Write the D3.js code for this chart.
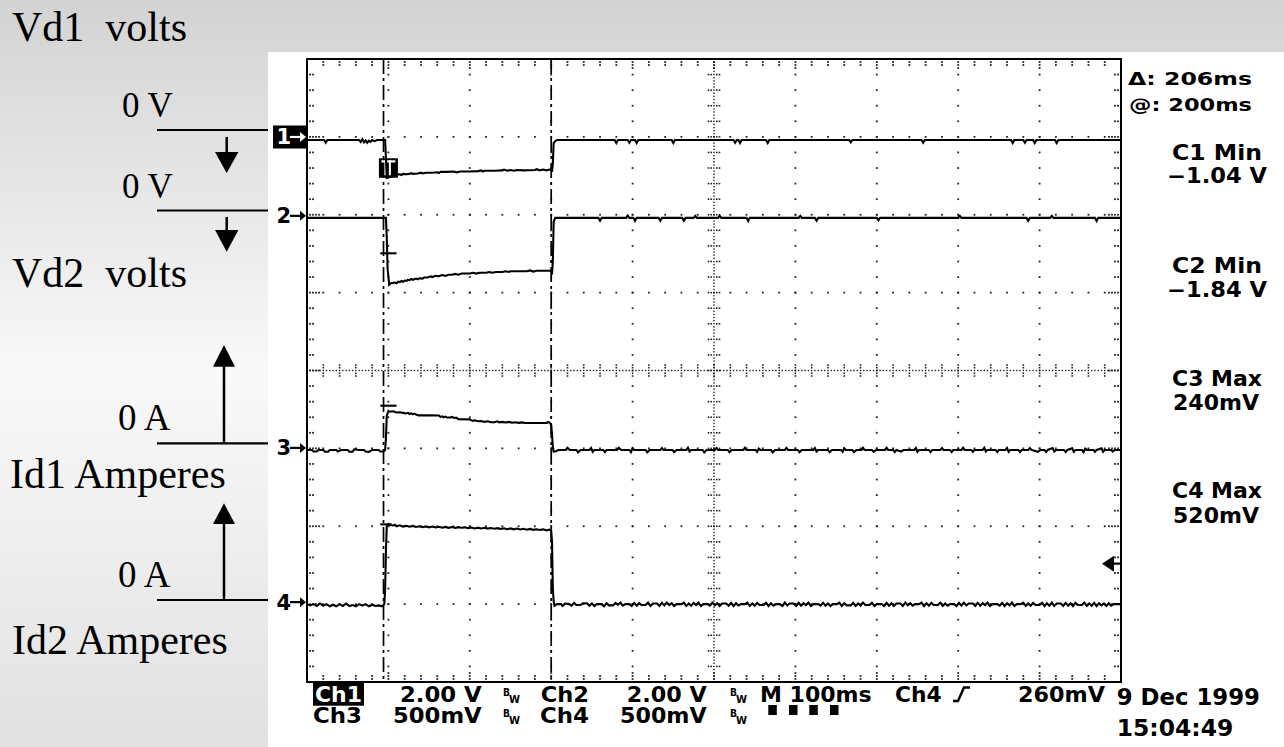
<!DOCTYPE html>
<html><head><meta charset="utf-8">
<script src="https://cdn.jsdelivr.net/npm/d3@7/dist/d3.min.js"></script>
<style>html,body{margin:0;padding:0;background:#fff;overflow:hidden;} svg{display:block;}</style>
</head><body>
<svg id="c" width="1284" height="747"></svg>
<script>
// ================= DATA =================
const channelNames = ["Ch1", "Ch2", "Ch3", "Ch4"];
const markerLabels = ["1", "2", "3", "4"];
const voltsPerDiv = [2.0, 2.0, 0.5, 0.5];
const channelOffsetDiv = [2.96, 1.96, -1.02, -3.0];
const timeWindowMs = [-100, 900];       // 100 ms/div, 10 divisions
const cursorTimesMs = [-6, 200];
const triggerLevelV = 0.26;             // on Ch4
const triggerChannel = 3;

const annotLabels = ["Vd1  volts", "0 V", "0 V", "Vd2  volts", "0 A", "Id1 Amperes", "0 A", "Id2 Amperes"];
const readoutLabels = ["\u0394: 206ms", "@: 200ms"];
const measLabels = ["C1 Min", "\u22121.04 V", "C2 Min", "\u22121.84 V", "C3 Max", "240mV", "C4 Max", "520mV"];
const bottomRow1 = ["2.00 V", "Ch2", "2.00 V", "M 100ms", "Ch4", "260mV"];
const bottomRow2 = ["Ch3", "500mV", "Ch4", "500mV"];
const dateLabels = ["9 Dec 1999", "15:04:49"];

// cursor-point bars drawn on traces near the trigger point [channel, volts, t0, t1]
const cursorBars = [[1, -0.91, -10, 10], [2, 0.284, -10, 10], [3, 0.512, -10, 4]];

// Ch1 (V)
const ch1 = [[-100,0],[-79,0],[-77,-0.07],[-75,0],[-36,0],[-34,-0.05],[-32,0.02],[-30,-0.06],[-28,-0.01],[-26,-0.07],[-24,-0.02],[-22,-0.05],[-20,0],[-17,-0.03],[-14,0],[-4,0],
 [-3,-0.5],[-2,-0.98],[1,-0.96],[6,-0.92],[10,-0.89],[14,-0.88],[16,-0.9],[18,-0.87],[22,-0.88],[26,-0.87],[28,-0.85],[30,-0.87],[36,-0.86],[40,-0.84],[42,-0.86],[46,-0.84],[54,-0.84],[60,-0.83],[62,-0.85],[64,-0.82],[72,-0.82],[80,-0.81],[84,-0.83],[88,-0.81],[100,-0.81],[110,-0.80],[114,-0.78],[116,-0.81],[118,-0.79],[130,-0.79],[140,-0.78],[142,-0.76],[146,-0.79],[150,-0.77],[154,-0.79],[158,-0.77],[166,-0.78],[180,-0.77],[182,-0.75],[186,-0.78],[190,-0.76],[194,-0.78],[198,-0.76],[200,-0.77],
 [201,-0.82],[202,-0.6],[203,-0.08],[205,-0.03],[207,0],
 [278,0],[280,-0.08],[282,0],[294,0],[296,-0.07],[298,0],[303,0],[305,-0.08],[307,0],[348,0],[350,-0.08],[352,0],[424,0],[426,-0.07],[428,0],[430,0],[432,-0.08],[434,0],[464,0],[466,-0.08],[468,0],
 [566,0],[568,-0.06],[570,0],[655,0],[657,-0.07],[659,0],[765,0],[767,-0.08],[769,0],[780,0],[782,-0.07],[784,0],[792,0],[794,-0.08],[796,0],[819,0],[821,-0.08],[823,0],[900,0]];

// Ch2 (V)
const ch2 = [[-100,0],[-3,0],[-2,-0.5],[-1,-1.3],[1,-1.72],[3,-1.68],[6,-1.67],[8,-1.66],[10,-1.68],[12,-1.64],[14,-1.65],[16,-1.62],[18,-1.64],[20,-1.61],[22,-1.62],[24,-1.59],[26,-1.6],[28,-1.57],[30,-1.59],[34,-1.56],[36,-1.58],[38,-1.55],[42,-1.56],[44,-1.53],[48,-1.53],[52,-1.5],[54,-1.52],[58,-1.49],[62,-1.5],[66,-1.47],[70,-1.49],[74,-1.46],[78,-1.46],[82,-1.44],[86,-1.46],[90,-1.43],[100,-1.43],[104,-1.41],[108,-1.43],[112,-1.41],[120,-1.41],[124,-1.39],[128,-1.41],[132,-1.39],[140,-1.39],[144,-1.37],[148,-1.39],[150,-1.37],[170,-1.37],[174,-1.35],[178,-1.38],[182,-1.36],[196,-1.36],[200,-1.36],
 [201,-1.45],[202,-1.1],[203,-0.1],[205,0],
 [258,0],[260,-0.07],[262,0],[292,0],[294,0.06],[296,0],[301,0],[303,-0.08],[305,0],[332,0],[334,-0.07],[336,0],[361,0],[363,-0.07],[365,0],[375,0],[377,0.05],[379,0],[405,0],[407,0.05],[409,0],[440,0],[442,-0.08],[444,0],[504,0],[506,0.05],[508,0],[524,0],[526,-0.07],[528,0],
 [600,0],[602,-0.06],[604,0],[700,0],[702,0.05],[704,0],[784,0],[786,-0.07],[788,0],[813,0],[815,0.05],[817,0],[868,0],[870,-0.08],[872,0],[900,0]];

// Ch3 (V)
const ch3 = [[-100,0],[-94,0],[-92,-0.01],[-88,-0.01],[-86,0],[-80,0],[-78,-0.012],[-74,-0.012],[-72,0],[-64,0],[-62,-0.01],[-58,0],[-50,0],[-48,-0.012],[-44,-0.012],[-42,0.004],[-36,0],[-30,0],[-28,-0.01],[-24,-0.012],[-20,0],[-12,0],[-10,-0.01],[-6,-0.01],[-4,0],
 [-3,0.08],[-2,0.22],[0,0.25],[2,0.245],[6,0.248],[10,0.24],[14,0.242],[18,0.238],[22,0.234],[24,0.238],[26,0.231],[28,0.235],[30,0.229],[32,0.233],[34,0.228],[37,0.222],[50,0.222],[62,0.221],[64,0.212],[66,0.216],[68,0.21],[70,0.214],[72,0.208],[76,0.208],[78,0.212],[80,0.207],[84,0.206],[86,0.197],[100,0.196],[102,0.19],[104,0.186],[106,0.19],[110,0.184],[114,0.186],[118,0.18],[122,0.184],[126,0.178],[130,0.178],[134,0.184],[136,0.177],[140,0.18],[144,0.176],[148,0.18],[152,0.175],[156,0.178],[160,0.174],[164,0.177],[168,0.173],[194,0.173],[196,0.178],[198,0.176],[200,0.16],
 [201,0.1],[202,0.02],[203,-0.01],[206,-0.008],[209,0],
 [218,0],[220,0.014],[223,0],[231,0],[233,-0.015],[236,0],[247,0],[249,0.012],[251,-0.012],[253,0],[264,0],[266,-0.014],[268,0],[281,0],[283,0.014],[286,0],[296,0],[298,-0.014],[300,0.01],[302,0],[316,0],[318,-0.015],[321,0],[334,0],[336,0.012],[338,0],[349,0],[351,-0.014],[354,0],[366,0],[368,0.014],[370,-0.01],[372,0],[386,0],[388,-0.015],[391,0],[401,0],[403,0.012],[405,0],[417,0],[419,-0.014],[422,0],[436,0],[438,0.014],[440,0],[451,0],[453,-0.012],[455,0.008],[457,0],[470,0],[472,-0.015],[475,0],[487,0],[489,0.013],[491,0],[503,0],[505,-0.014],[508,0],[522,0],[524,0.012],[526,-0.01],[528,0],[540,0],[542,-0.014],[545,0],[556,0],[558,-0.012],[560,0.01],[562,0],[570,0],[572,-0.014],[575,0],[581,0],[583,0.014],[585,0],[594,0],[596,-0.012],[599,0],[610,0],[612,0.014],[614,0],[620,0],[622,-0.014],[624,0],[630,-0.01],[633,0],[646,0],[648,0.012],[650,-0.012],[652,0],[664,0],[666,-0.014],[668,0],[678,0],[680,0.012],[682,0],[690,0],[692,-0.014],[694,0],[704,0],[706,0.014],[708,0],[716,0],[718,-0.012],[720,0],[730,0],[732,0.014],[734,-0.01],[736,0],[746,0],[748,-0.014],[750,0],[758,0],[760,0.012],[762,-0.012],[764,0],[774,0],[776,-0.014],[778,0],[786,0],[788,0.012],[790,0],[798,-0.012],[801,0],[806,0],[808,-0.014],[810,0],[816,0.012],[818,-0.01],[820,0],[830,0],[832,-0.014],[834,0],[840,0.01],[842,-0.012],[844,0],[852,0],[854,-0.014],[856,0.008],[858,0],[866,0],[868,-0.012],[870,0],[876,0.01],[878,-0.012],[880,0],[888,0],[890,-0.01],[892,0],[900,0]];

// Ch4 (V)
const ch4 = [[-100,0],[-96,-0.008],[-92,0],[-88,-0.012],[-84,0.004],[-80,-0.01],[-76,0],[-72,-0.014],[-68,-0.004],[-64,-0.014],[-60,0],[-56,-0.012],[-52,0.004],[-48,-0.012],[-44,-0.006],[-40,-0.014],[-36,0],[-32,-0.01],[-28,0],[-24,-0.014],[-20,-0.004],[-16,-0.012],[-12,-0.008],[-8,-0.014],[-5,0],
 [-4,0.1],[-3,0.35],[-2,0.5],[0,0.515],[2,0.508],[6,0.505],[8,0.51],[10,0.5],[14,0.506],[18,0.498],[22,0.503],[26,0.497],[30,0.502],[34,0.495],[38,0.5],[42,0.494],[46,0.499],[50,0.493],[54,0.498],[58,0.492],[62,0.497],[66,0.491],[70,0.496],[74,0.49],[78,0.495],[82,0.489],[86,0.494],[90,0.49],[94,0.493],[98,0.487],[102,0.492],[106,0.486],[110,0.491],[114,0.486],[118,0.49],[122,0.485],[126,0.489],[130,0.484],[134,0.488],[138,0.483],[142,0.487],[146,0.481],[150,0.486],[154,0.48],[158,0.485],[162,0.479],[166,0.484],[170,0.478],[174,0.483],[178,0.477],[182,0.481],[186,0.476],[190,0.48],[194,0.474],[198,0.478],[200,0.47],
 [201,0.4],[202,0.1],[203,0.02],[204,-0.01],[207,0],[212,0],[214,-0.012],[217,0.004],[222,0],[225,-0.01],[228,0.008],[231,-0.006],[236,-0.006],[239,0.006],[244,0.006],[247,-0.01],[250,0.004],[253,-0.012],[256,0],[262,0],[265,-0.014],[268,0.006],[271,-0.008],[276,-0.008],[279,0.008],[282,-0.004],[285,0.01],[288,-0.01],[291,0],[296,0],[299,-0.012],[302,0.008],[305,-0.01],[308,0.006],[311,-0.006],[316,-0.006],[319,0.01],[322,-0.012],[325,0.004],[330,0.004],[333,-0.012],[336,0.008],[339,-0.008],[342,0.01],[345,-0.006],[348,0.006],[351,-0.012],[354,0],[360,0],[363,0.01],[366,-0.012],[369,0.004],[372,-0.01],[375,0.008],[378,-0.006],[381,0.01],[384,-0.012],[387,0],[392,0],[395,-0.01],[398,0.01],[401,-0.008],[404,0.006],[407,-0.012],[410,0.004],[415,0.004],[418,-0.01],[421,0.008],[424,-0.012],[427,0.006],[430,-0.008],[433,0],[438,0],[441,0.01],[444,-0.012],[447,0.004],[450,-0.01],[453,0.008],[456,-0.006],[461,-0.006],[464,0.008],[467,-0.012],[470,0.006],[473,-0.01],[476,0],[481,0],[484,-0.012],[487,0.01],[490,-0.008],[493,0.004],[498,0.004],[501,-0.012],[504,0.008],[507,-0.01],[510,0.006],[513,-0.006],[516,0.01],[519,-0.012],[522,0],[528,0],[531,-0.01],[534,0.008],[537,-0.01],[540,0.004],[543,-0.012],[546,0],[551,0],[554,0.01],[557,-0.012],[560,0.006],[563,-0.008],[568,-0.008],[571,0.008],[574,-0.012],[577,0.004],[580,-0.01],[583,0.01],[586,-0.006],[591,-0.006],[594,0.008],[597,-0.012],[600,0],[606,0],[609,-0.012],[612,0.008],[615,-0.01],[618,0.006],[621,-0.012],[624,0.004],[629,0.004],[632,-0.012],[635,0.01],[638,-0.008],[641,0.006],[644,-0.01],[647,0],[652,0],[655,0.01],[658,-0.012],[661,0.006],[664,-0.01],[667,0.008],[670,-0.006],[675,-0.006],[678,0.01],[681,-0.012],[684,0.004],[687,-0.01],[690,0],[695,0],[698,-0.012],[701,0.008],[704,-0.01],[707,0.01],[710,-0.008],[713,0.004],[718,0.004],[721,-0.012],[724,0.008],[727,-0.01],[730,0.006],[733,-0.006],[736,0.01],[739,-0.012],[742,0],[748,0],[751,-0.01],[754,0.008],[757,-0.012],[760,0.006],[763,-0.008],[766,0.01],[769,-0.012],[772,0],[777,0],[780,0.01],[783,-0.012],[786,0.004],[789,-0.01],[792,0.008],[795,-0.006],[800,-0.006],[803,0.008],[806,-0.012],[809,0.006],[812,-0.01],[815,0.01],[818,-0.012],[821,0.004],[826,0.004],[829,-0.012],[832,0.008],[835,-0.01],[838,0.006],[841,-0.012],[844,0.008],[847,-0.006],[852,-0.006],[855,0.01],[858,-0.012],[861,0.004],[864,-0.01],[867,0.008],[870,-0.012],[873,0.006],[876,-0.008],[879,0.004],[882,-0.012],[885,0.006],[888,-0.01],[891,0],[900,0]];

const traces = [ch1, ch2, ch3, ch4];

// ================= LAYOUT / SCALES =================
const svg = d3.select("#c");
const plot = {left: 307, right: 1121, top: 59, bottom: 682};
const x = d3.scaleLinear().domain(timeWindowMs).range([plot.left, plot.right]);
const xDiv = d3.scaleLinear().domain([0, 10]).range([plot.left, plot.right]);
const yTop = d3.scaleLinear().domain([0, 8]).range([plot.top, plot.bottom]);
const yDiv = d3.scaleLinear().domain([4, -4]).range([plot.top, plot.bottom]);
const yCh = (i, v) => yDiv(channelOffsetDiv[i] + v / voltsPerDiv[i]);

// background
const defs = svg.append("defs");
const grad = defs.append("linearGradient").attr("id", "bg").attr("x1", 0).attr("y1", 0).attr("x2", 0).attr("y2", 1);
grad.append("stop").attr("offset", "0%").attr("stop-color", "#d3d3d3");
grad.append("stop").attr("offset", "50%").attr("stop-color", "#f9f9f9");
grad.append("stop").attr("offset", "100%").attr("stop-color", "#e1e1e1");
svg.append("rect").attr("width", 1284).attr("height", 747).attr("fill", "url(#bg)");
svg.append("rect").attr("x", 268).attr("y", 52).attr("width", 1016).attr("height", 695).attr("fill", "#fff");

// ---------- graticule ----------
const grid = svg.append("g").attr("fill", "#222");
const dot = (cx, cy, s = 1.8) => grid.append("rect").attr("x", cx - s / 2).attr("y", cy - s / 2).attr("width", s).attr("height", s);
const minorX = d3.range(1, 50).map(m => m / 5);
const minorY = d3.range(1, 40).map(m => m / 5);
// vertical major lines
d3.range(1, 10).filter(k => k !== 5).forEach(k => minorY.forEach(m => dot(xDiv(k), yTop(m))));
// horizontal major lines
d3.range(1, 8).filter(j => j !== 4).forEach(j => minorX.forEach(m => dot(xDiv(m), yTop(j))));
// centre cross: dense dots + ticks
d3.range(1, 250).map(m => m / 25).forEach(m => dot(xDiv(m), yTop(4), 1.4));
d3.range(1, 200).map(m => m / 25).forEach(m => dot(xDiv(5), yTop(m), 1.4));
minorX.forEach(m => [-5.5, -2.8, 2.8, 5.5].forEach(o => dot(xDiv(m), yTop(4) + o, 1.6)));
minorY.forEach(m => [-5.5, -2.8, 2.8, 5.5].forEach(o => dot(xDiv(5) + o, yTop(m), 1.6)));
// edge ticks
minorX.forEach(m => {
  const isMajor = Math.abs(m - Math.round(m)) < 1e-9;
  const offs = isMajor ? [3, 6, 9] : [3, 6];
  offs.forEach(o => { dot(xDiv(m), plot.top + o); dot(xDiv(m), plot.bottom - o); });
});
minorY.forEach(m => {
  const isMajor = Math.abs(m - Math.round(m)) < 1e-9;
  const offs = isMajor ? [3, 6, 9, 12] : [3, 6];
  offs.forEach(o => { dot(plot.left + o, yTop(m)); dot(plot.right - o, yTop(m)); });
});
// frame
svg.append("rect").attr("x", plot.left).attr("y", plot.top)
  .attr("width", plot.right - plot.left).attr("height", plot.bottom - plot.top)
  .attr("fill", "none").attr("stroke", "#000").attr("stroke-width", 2);

// ---------- cursors ----------
svg.append("g").selectAll("line").data(cursorTimesMs).join("line")
  .attr("x1", d => x(d)).attr("x2", d => x(d)).attr("y1", plot.top).attr("y2", plot.bottom)
  .attr("stroke", "#000").attr("stroke-width", 1.7).attr("stroke-dasharray", "15,4,3,4");

// ---------- trigger box on Ch1 ----------
const tb = svg.append("g");
tb.append("rect").attr("x", x(0) - 9.5).attr("y", yCh(0, -0.47)).attr("width", 19)
  .attr("height", yCh(0, -0.97) - yCh(0, -0.47)).attr("fill", "#000");
tb.append("rect").attr("x", x(0) - 7).attr("y", yCh(0, -0.47) + 2).attr("width", 14).attr("height", 2.2).attr("fill", "#fff");
tb.append("rect").attr("x", x(0) - 4).attr("y", yCh(0, -0.47) + 2).attr("width", 2).attr("height", 15).attr("fill", "#fff");
tb.append("rect").attr("x", x(0) + 0.5).attr("y", yCh(0, -0.47) + 2).attr("width", 2).attr("height", 15).attr("fill", "#fff");

// ---------- traces ----------
const tg = svg.append("g").attr("fill", "none").attr("stroke", "#000").attr("stroke-width", 2.1).attr("stroke-linejoin", "miter");
traces.forEach((tr, i) => {
  const line = d3.line().x(d => x(d[0])).y(d => yCh(i, d[1]));
  tg.append("path").attr("d", line(tr));
});
tg.selectAll("line.cb").data(cursorBars).join("line").attr("class", "cb")
  .attr("x1", d => x(d[2])).attr("x2", d => x(d[3])).attr("y1", d => yCh(d[0], d[1])).attr("y2", d => yCh(d[0], d[1]));

// ---------- trigger level marker (right edge) ----------
const ty = yCh(triggerChannel, triggerLevelV);
svg.append("path").attr("d", `M${plot.right - 19},${ty} L${plot.right - 7},${ty - 8} L${plot.right - 7},${ty + 8} Z`).attr("fill", "#000");
svg.append("line").attr("x1", plot.right - 8).attr("x2", plot.right).attr("y1", ty).attr("y2", ty).attr("stroke", "#000").attr("stroke-width", 2.2);

// ---------- channel markers ----------
const scopeFont = "DejaVu Sans, Liberation Sans, sans-serif";
markerLabels.forEach((lab, i) => {
  const y0 = yCh(i, 0) - (i === 0 ? 3 : 2);
  const g = svg.append("g");
  let col = "#000";
  if (i === 0) { g.append("rect").attr("x", 273).attr("y", y0 - 11.5).attr("width", 34.5).attr("height", 23).attr("fill", "#000"); col = "#fff"; }
  g.append("text").attr("x", 276.5).attr("y", y0 + 7.5).attr("font-family", scopeFont).attr("font-weight", "bold")
    .attr("font-size", 21).attr("fill", col).text(lab);
  g.append("line").attr("x1", 290).attr("x2", 301).attr("y1", y0).attr("y2", y0).attr("stroke", col).attr("stroke-width", 2.2);
  g.append("path").attr("d", `M${306},${y0} L${300},${y0 - 5} L${300},${y0 + 5} Z`).attr("fill", col);
});

// ---------- left annotations ----------
const serif = "Liberation Serif, Times New Roman, serif";
const ann = svg.append("g").attr("font-family", serif).attr("fill", "#000");
const annPos = [[12, 41, 42], [122, 117, 35], [122, 198, 35], [12, 287, 42], [118, 430, 37], [10, 488, 42], [118, 587, 37], [12, 654, 42]];
annotLabels.forEach((t, i) => ann.append("text").attr("x", annPos[i][0]).attr("y", annPos[i][1]).attr("font-size", annPos[i][2])
  .attr("xml:space", "preserve").style("white-space", "pre").text(t));
const annLinesY = [130, 210.5, 443.3, 600];
ann.selectAll("line.h").data(annLinesY).join("line").attr("class", "h")
  .attr("x1", 157).attr("x2", 268).attr("y1", d => d).attr("y2", d => d).attr("stroke", "#000").attr("stroke-width", 2.2);
// down arrows (volts)
[[137, 152, 173], [217, 230, 251.7]].forEach(([s, b, tip]) => {
  ann.append("line").attr("x1", 226.7).attr("x2", 226.7).attr("y1", s).attr("y2", b + 2).attr("stroke", "#000").attr("stroke-width", 2.5);
  ann.append("path").attr("d", `M215,${b} L238.4,${b} L226.7,${tip} Z`);
});
// up arrows (amperes)
[[345, 366.7, 443.3], [503.3, 524, 600]].forEach(([tip, b, e]) => {
  ann.append("line").attr("x1", 224).attr("x2", 224).attr("y1", b - 2).attr("y2", e).attr("stroke", "#000").attr("stroke-width", 2.5);
  ann.append("path").attr("d", `M213,${b} L235,${b} L224,${tip} Z`);
});

// ---------- scope readout text ----------
const txt = svg.append("g").attr("font-family", scopeFont).attr("font-weight", "bold").attr("fill", "#000");
function st(s, xx, yy, w, size, fill) {
  return txt.append("text").attr("x", xx).attr("y", yy).attr("font-size", size).attr("textLength", w)
    .attr("lengthAdjust", "spacingAndGlyphs").attr("fill", fill || "#000").text(s);
}
const readPos = [[1128, 85, 124], [1129, 111, 123]];
readoutLabels.forEach((s, i) => st(s, readPos[i][0], readPos[i][1], readPos[i][2], 17));
const measPos = [[1172, 160, 90], [1167, 183, 100], [1172, 273, 90], [1167, 296.7, 100], [1172, 385.7, 90], [1173, 410, 86], [1172, 498, 90], [1173, 522.7, 86]];
measLabels.forEach((s, i) => st(s, measPos[i][0], measPos[i][1], measPos[i][2], 20.5));

// bottom rows
txt.append("rect").attr("x", 313).attr("y", 683).attr("width", 51).attr("height", 22.7).attr("fill", "#000");
st(channelNames[0], 315, 701.7, 47, 20.5, "#fff");
const row1Pos = [[400, 81.7], [540.7, 48.3], [626.7, 80], [760, 111.7], [895, 46.7], [1018, 87]];
bottomRow1.forEach((s, i) => st(s, row1Pos[i][0], 701.7, row1Pos[i][1], 20.5));
const row2Pos = [[313, 49], [393, 88.7], [540, 49], [620, 86.7]];
bottomRow2.forEach((s, i) => st(s, row2Pos[i][0], 723.3, row2Pos[i][1], 20.5));
st(dateLabels[0], 1116.7, 705, 143.3, 22.5);
st(dateLabels[1], 1116.7, 736, 116.6, 22.5);
// bandwidth-limit marks
[[503, 695.5], [730, 695.5]].forEach(([bx, by]) => {
  [0, 21.6].forEach(dy => {
    st("B", bx, by + dy, 7, 11);
    st("W", bx + 6, by + dy + 7, 11, 10);
  });
});
// rising-edge symbol
txt.append("path").attr("d", "M953,701 L958,701 L964,687.5 L970,687.5").attr("fill", "none").attr("stroke", "#000").attr("stroke-width", 2.4);
// record-position squares
[768.3, 789, 809.3, 830].forEach(sx => txt.append("rect").attr("x", sx).attr("y", 705).attr("width", 8.5).attr("height", 10).attr("fill", "#000"));
</script>
</body></html>
